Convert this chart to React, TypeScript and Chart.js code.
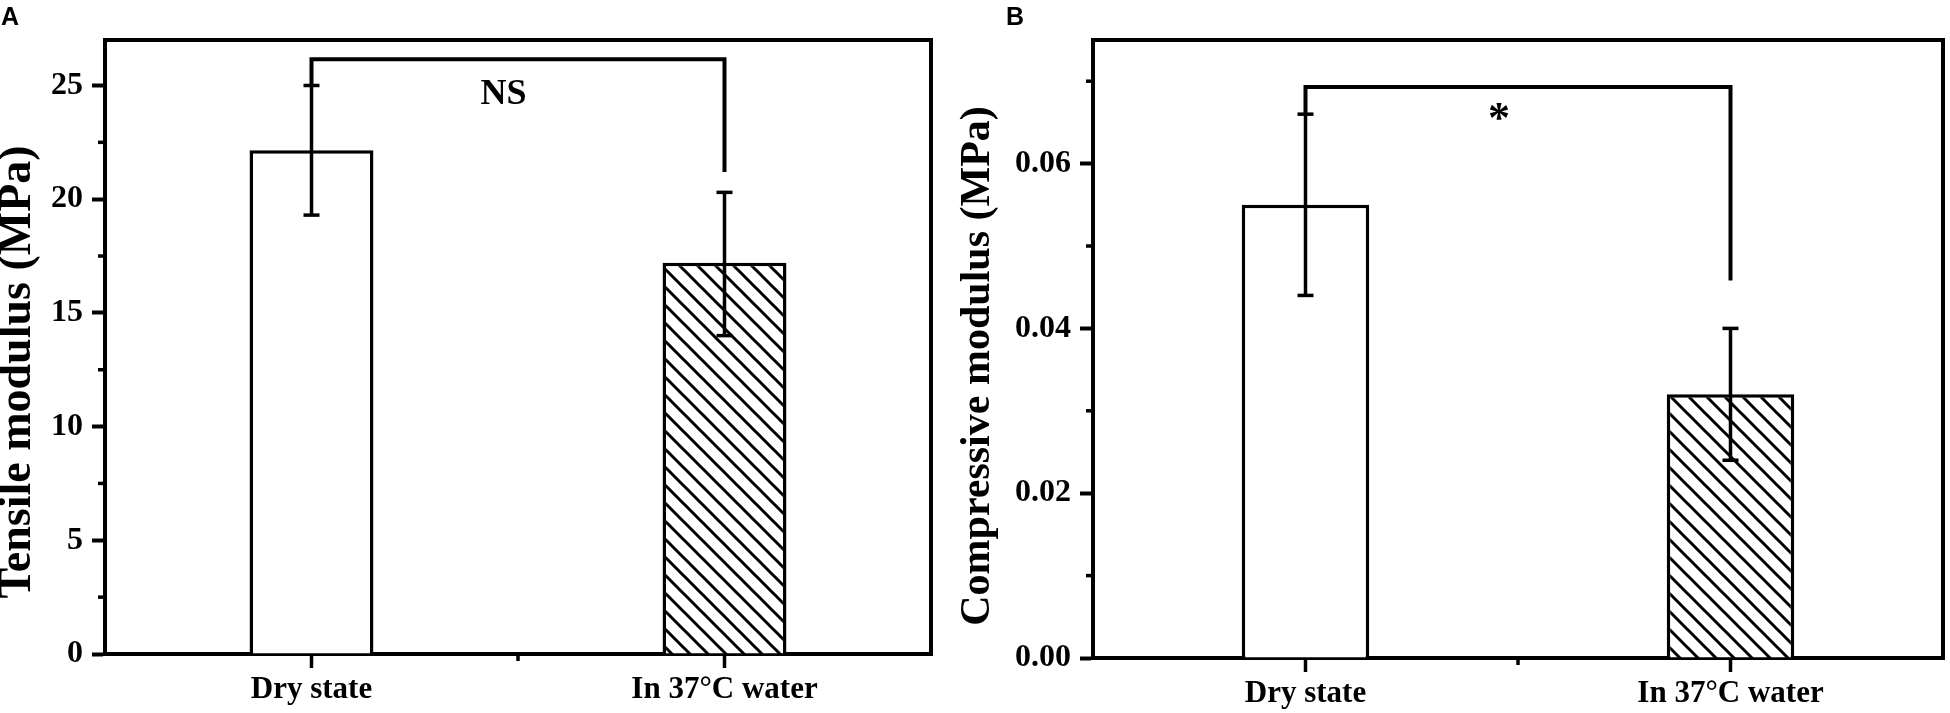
import { useEffect, useRef } from "react";
import Chart from "chart.js/auto";

const SERIF = "'Liberation Serif', 'Times New Roman', serif";
const SANS = "'Liberation Sans', Arial, sans-serif";

const categories = ["Dry state", "In 37°C water"];

// A: tensile modulus (MPa)
const tensileMeans = [22.15, 17.2];
const tensileLow = [19.3, 14.0];
const tensileHigh = [25.0, 20.3];
const tensileTicks = [0, 5, 10, 15, 20, 25];
const tensileMax = 27;
const tensileBracket = [25.0, 26.15, 21.2]; // left end, top, right end
const tensileSigAt = [0.465, 24.6];

// B: compressive modulus (MPa)
const compMeans = [0.055, 0.032];
const compLow = [0.044, 0.024];
const compHigh = [0.066, 0.04];
const compTicks = [0, 0.02, 0.04, 0.06];
const compMax = 0.075;
const compBracket = [0.066, 0.0693, 0.0458];
const compSigAt = [0.455, 0.0652];

const panels = [
  {
    letter: "A",
    title: "Tensile modulus (MPa)",
    titleSize: 46,
    means: tensileMeans,
    low: tensileLow,
    high: tensileHigh,
    ticks: tensileTicks,
    max: tensileMax,
    decimals: 0,
    bracket: tensileBracket,
    sig: "NS",
    sigAt: tensileSigAt,
    sigFont: 36,
    left: 0,
    width: 950,
    area: { left: 105, right: 931, top: 40, bottom: 654 },
    titleX: 18,
    titleDy: 25,
    letterX: 1,
  },
  {
    letter: "B",
    title: "Compressive modulus (MPa)",
    titleSize: 42,
    means: compMeans,
    low: compLow,
    high: compHigh,
    ticks: compTicks,
    max: compMax,
    decimals: 2,
    bracket: compBracket,
    sig: "*",
    sigAt: compSigAt,
    sigFont: 44,
    left: 950,
    width: 1000,
    area: { left: 143, right: 993, top: 40, bottom: 658 },
    titleX: 28,
    titleDy: 17,
    letterX: 56,
  },
];

type PanelDef = (typeof panels)[number];

const HEIGHT = 713;

function makeHatch(): CanvasPattern | string {
  const s = 18;
  const c = document.createElement("canvas");
  c.width = s;
  c.height = s;
  const g = c.getContext("2d");
  if (!g) return "#fff";
  g.fillStyle = "#fff";
  g.fillRect(0, 0, s, s);
  g.strokeStyle = "#000";
  g.lineWidth = 3;
  for (const k of [-1, 0, 1]) {
    g.beginPath();
    g.moveTo(-2, -2 + k * s);
    g.lineTo(s + 2, s + 2 + k * s);
    g.stroke();
  }
  return g.createPattern(c, "repeat") || "#fff";
}

function line(ctx: CanvasRenderingContext2D, x1: number, y1: number, x2: number, y2: number) {
  ctx.beginPath();
  ctx.moveTo(x1, y1);
  ctx.lineTo(x2, y2);
  ctx.stroke();
}

function Panel({ p }: { p: PanelDef }) {
  const canvasRef = useRef<HTMLCanvasElement>(null);
  const chartRef = useRef<Chart | null>(null);

  useEffect(() => {
    if (!canvasRef.current) return;
    const ctx = canvasRef.current.getContext("2d");
    if (!ctx) return;
    if (chartRef.current) chartRef.current.destroy();

    const step = p.ticks[1] - p.ticks[0];
    const minorY = p.ticks.map((t) => t + step / 2).filter((v) => v < p.max);

    const extras = {
      id: "extras",
      afterDatasetsDraw(chart: any) {
        const c = chart.ctx as CanvasRenderingContext2D;
        const xs = chart.scales.x;
        const ys = chart.scales.y;
        const bars = chart.getDatasetMeta(0).data;
        c.save();
        c.strokeStyle = "#000";
        c.fillStyle = "#000";
        c.lineCap = "butt";
        // error bars
        c.lineWidth = 3.5;
        bars.forEach((bar: any, i: number) => {
          const yl = ys.getPixelForValue(p.low[i]);
          const yh = ys.getPixelForValue(p.high[i]);
          line(c, bar.x, yl, bar.x, yh);
          line(c, bar.x - 8, yl, bar.x + 8, yl);
          line(c, bar.x - 8, yh, bar.x + 8, yh);
        });
        // significance bracket
        const [l, top, r] = p.bracket;
        const x0 = bars[0].x;
        const x1 = bars[1].x;
        c.lineWidth = 4;
        c.lineJoin = "miter";
        c.beginPath();
        c.moveTo(x0, ys.getPixelForValue(l));
        c.lineTo(x0, ys.getPixelForValue(top));
        c.lineTo(x1, ys.getPixelForValue(top));
        c.lineTo(x1, ys.getPixelForValue(r));
        c.stroke();
        c.font = `bold ${p.sigFont}px ${SERIF}`;
        c.textAlign = "center";
        c.textBaseline = "middle";
        c.fillText(p.sig, xs.getPixelForValue(p.sigAt[0]), ys.getPixelForValue(p.sigAt[1]));
        c.restore();
      },
      afterDraw(chart: any) {
        const c = chart.ctx as CanvasRenderingContext2D;
        const a = chart.chartArea;
        const xs = chart.scales.x;
        const ys = chart.scales.y;
        c.save();
        c.strokeStyle = "#000";
        c.fillStyle = "#000";
        // frame top and right
        c.lineWidth = 4;
        line(c, a.left - 2, a.top, a.right + 2, a.top);
        line(c, a.right, a.top, a.right, a.bottom + 2);
        // minor ticks
        c.lineWidth = 3.5;
        minorY.forEach((v) => {
          const y = ys.getPixelForValue(v);
          line(c, a.left, y, a.left - 7, y);
        });
        const xm = xs.getPixelForValue(0.5);
        line(c, xm, a.bottom, xm, a.bottom + 7);
        // y axis title
        c.font = `bold ${p.titleSize}px ${SERIF}`;
        c.textAlign = "center";
        c.textBaseline = "middle";
        c.translate(p.titleX, (a.top + a.bottom) / 2 + p.titleDy);
        c.rotate(-Math.PI / 2);
        c.fillText(p.title, 0, 0);
        c.restore();
        // panel letter
        c.save();
        c.fillStyle = "#000";
        c.font = `bold 25px ${SANS}`;
        c.textAlign = "left";
        c.textBaseline = "top";
        c.fillText(p.letter, p.letterX, 6);
        c.restore();
      },
    };

    const tickFont = { family: SERIF, size: 32, weight: "bold" as const };

    chartRef.current = new Chart(ctx, {
      type: "bar",
      data: {
        labels: categories,
        datasets: [
          {
            data: p.means,
            backgroundColor: ["#fff", makeHatch()],
            borderColor: "#000",
            borderWidth: 3.5,
            borderSkipped: "start",
            barPercentage: 0.3,
            categoryPercentage: 1,
          },
        ],
      },
      options: {
        responsive: false,
        animation: false,
        layout: {
          padding: { left: 0, top: p.area.top, right: p.width - p.area.right, bottom: 0 },
        },
        plugins: { legend: { display: false }, tooltip: { enabled: false } },
        scales: {
          x: {
            type: "category",
            offset: true,
            grid: {
              display: true,
              drawOnChartArea: false,
              drawTicks: true,
              offset: false,
              tickLength: 14,
              tickWidth: 3.5,
              tickColor: "#000",
              color: "#000",
            },
            border: { display: true, color: "#000", width: 4 },
            ticks: {
              color: "#000",
              font: { family: SERIF, size: 31, weight: "bold" },
              padding: 3,
              maxRotation: 0,
              autoSkip: false,
            },
            afterFit: (s: any) => {
              s.height = HEIGHT - p.area.bottom;
            },
          },
          y: {
            type: "linear",
            min: 0,
            max: p.max,
            grid: {
              display: true,
              drawOnChartArea: false,
              drawTicks: true,
              tickLength: 13,
              tickWidth: 4,
              tickColor: "#000",
              color: "#000",
            },
            border: { display: true, color: "#000", width: 4 },
            afterBuildTicks: (s: any) => {
              s.ticks = p.ticks.map((v) => ({ value: v }));
            },
            ticks: {
              color: "#000",
              font: tickFont,
              padding: 9,
              callback: (v: any) => Number(v).toFixed(p.decimals),
            },
            afterFit: (s: any) => {
              s.width = p.area.left;
            },
          },
        },
      },
      plugins: [extras],
    });

    return () => {
      if (chartRef.current) {
        chartRef.current.destroy();
        chartRef.current = null;
      }
    };
  }, [p]);

  return (
    <canvas
      ref={canvasRef}
      width={p.width}
      height={HEIGHT}
      style={{ position: "absolute", left: p.left, top: 0, width: p.width, height: HEIGHT }}
    />
  );
}

export default function App() {
  return (
    <div
      style={{
        position: "fixed",
        left: 0,
        top: 0,
        width: 1950,
        height: HEIGHT,
        background: "#fff",
        overflow: "hidden",
      }}
    >
      {panels.map((p) => (
        <Panel key={p.letter} p={p} />
      ))}
    </div>
  );
}
